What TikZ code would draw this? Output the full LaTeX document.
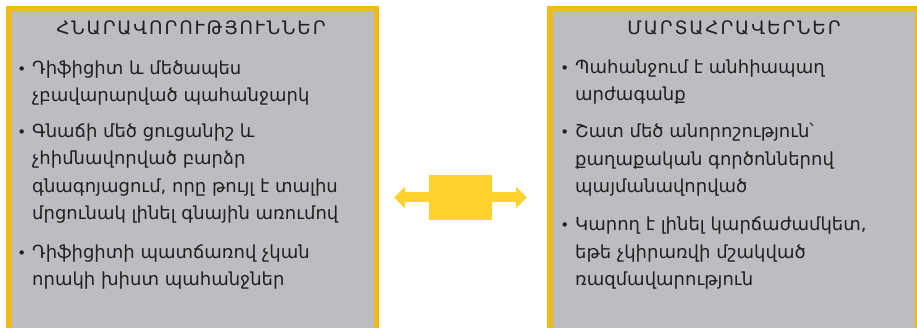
\documentclass[tikz,border=0pt]{standalone}
\usepackage{fontspec}
\setmainfont{DejaVu Sans}
\newfontfamily\headfont[LetterSpace=10]{DejaVu Sans}
\usetikzlibrary{arrows.meta}
\definecolor{panelgrey}{HTML}{BCBDC0}
\definecolor{panelrim}{HTML}{F1BA1B}
\definecolor{arrowgold}{HTML}{FDD12E}
\definecolor{ink}{HTML}{231F20}
% small bullet hanging left of the item text
\newcommand{\bul}{\llap{{\fontsize{15}{15}\selectfont •}\hspace{6pt}}}

\begin{document}
\begin{tikzpicture}[x=1pt,y=-1pt,
  panel/.style={draw=panelrim, fill=panelgrey, line width=5.5pt},
  heading/.style={font=\headfont\fontsize{18.5}{20}\selectfont, text=ink, anchor=base, inner sep=0pt},
  % anchor 'base' of a multi-line node sits on its last line
  entry/.style={font=\fontsize{18}{27.5}\selectfont, text=ink, align=left, anchor=base west, inner sep=0pt},
  bridge/.style={draw=none, fill=arrowgold},
  pointer/.style={arrowgold, line width=10pt, -{Triangle[length=11pt,width=21pt]}}
  ]
\useasboundingbox (0,0) rectangle (917,328);
\clip (0,0) rectangle (917,328);

% two panels, running off the bottom edge
\draw[panel] (8.75,8.75) rectangle (376.25,345);
\draw[panel] (549.75,8.75) rectangle (917.25,345);

% left panel
\node[heading] (lhead) at (191,35) {ՀՆԱՐԱՎՈՐՈՒԹՅՈՒՆՆԵՐ};
\node[entry] (l1) at (32,102) {\bul Դիֆիցիտ և մեծապես\\ չբավարարված պահանջարկ};
\node[entry] (l2) at (32,220) {\bul Գնաճի մեծ ցուցանիշ և\\ չհիմնավորված բարձր\\ գնագոյացում, որը թույլ է տալիս\\ մրցունակ լինել գնային առումով};
\node[entry] (l3) at (32,286) {\bul Դիֆիցիտի պատճառով չկան\\ որակի խիստ պահանջներ};

% right panel
\node[heading] (rhead) at (734,35) {ՄԱՐՏԱՀՐԱՎԵՐՆԵՐ};
\node[entry] (r1) at (575,101) {\bul Պահանջում է անհիապաղ\\ արժագանք};
\node[entry] (r2) at (575,193) {\bul Շատ մեծ անորոշություն՝\\ քաղաքական գործոններով\\ պայմանավորված};
\node[entry] (r3) at (575,286) {\bul Կարող է լինել կարճաժամկետ,\\ եթե չկիրառվի մշակված\\ ռազմավարություն};

% double arrow between the panels
\node[bridge, minimum width=63pt, minimum height=45pt, inner sep=0pt] (hub) at (460.5,197.5) {};
\coordinate (ltip) at (394,197.5);
\coordinate (rtip) at (527,197.5);
\draw[pointer] (hub.west) -- (ltip);
\draw[pointer] (hub.east) -- (rtip);
\end{tikzpicture}
\end{document}
